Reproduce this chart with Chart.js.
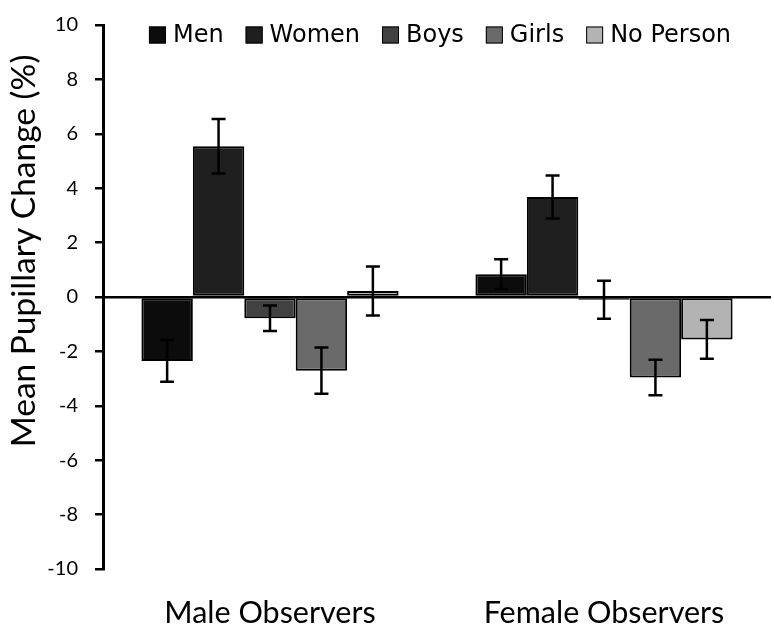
<!DOCTYPE html>
<html>
<head>
<meta charset="utf-8">
<script src="https://cdn.jsdelivr.net/npm/chart.js@4.4.0/dist/chart.umd.min.js"></script>
<style>
  html, body { margin: 0; padding: 0; background: #fff; }
  #chart { display: block; }
</style>
</head>
<body>
<canvas id="chart" width="774" height="625"></canvas>
<script>
// data
const categories = ["Male Observers", "Female Observers"];
const seriesNames = ["Men", "Women", "Boys", "Girls", "No Person"];
const seriesColors = ["#0c0c0c", "#1f1f1f", "#414141", "#6a6a6a", "#b3b3b3"];

const menValues = [-2.35, 0.84];
const womenValues = [5.54, 3.68];
const boysValues = [-0.78, -0.10];
const girlsValues = [-2.71, -2.96];
const noPersonValues = [0.22, -1.56];

const menErrors = [0.77, 0.55];
const womenErrors = [1.00, 0.79];
const boysErrors = [0.47, 0.70];
const girlsErrors = [0.85, 0.65];
const noPersonErrors = [0.90, 0.71];

const yTicks = [-10, -8, -6, -4, -2, 0, 2, 4, 6, 8, 10];
const yTitle = "Mean Pupillary Change (%)";

const allValues = [menValues, womenValues, boysValues, girlsValues, noPersonValues];
const allErrors = [menErrors, womenErrors, boysErrors, girlsErrors, noPersonErrors];

// pick a font size so a text fills a given width
function fitSize(text, family, width) {
    const c = document.createElement("canvas").getContext("2d");
    c.font = "100px " + family;
    return Math.round(100 * width / c.measureText(text).width * 2) / 2;
}
const catSize = fitSize(categories[0], "Lato", 213);
const titleSize = fitSize(yTitle, "Lato", 392);

const datasets = seriesNames.map((name, i) => ({
    label: name,
    data: allValues[i],
    errors: allErrors[i],
    backgroundColor: seriesColors[i],
    borderColor: "#000",
    borderWidth: 2,
    borderSkipped: false,
    categoryPercentage: 0.77,
    barPercentage: 1.0
}));

// error bars, drawn from the y scale
const errorBars = {
    id: "errorBars",
    afterDatasetsDraw(chart) {
        const ctx = chart.ctx;
        const yScale = chart.scales.y;
        ctx.save();
        ctx.strokeStyle = "#000";
        ctx.lineWidth = 2.5;
        chart.data.datasets.forEach((ds, i) => {
            chart.getDatasetMeta(i).data.forEach((bar, j) => {
                const v = ds.data[j], e = ds.errors[j];
                const top = yScale.getPixelForValue(v + e);
                const bot = yScale.getPixelForValue(v - e);
                ctx.beginPath();
                ctx.moveTo(bar.x, top); ctx.lineTo(bar.x, bot);
                ctx.moveTo(bar.x - 7, top); ctx.lineTo(bar.x + 7, top);
                ctx.moveTo(bar.x - 7, bot); ctx.lineTo(bar.x + 7, bot);
                ctx.stroke();
            });
        });
        ctx.restore();
    }
};

// legend inside the plot along the top, plus the y title (sits above the axis middle)
const extras = {
    id: "extras",
    afterDraw(chart) {
        const ctx = chart.ctx;
        const area = chart.chartArea;
        ctx.save();
        ctx.font = "24px 'DejaVu Sans'";
        ctx.textBaseline = "middle";
        const box = 17, gap = 7, space = 22;
        const widths = chart.data.datasets.map(ds => ctx.measureText(ds.label).width);
        const total = widths.reduce((a, w) => a + box + gap + w, 0) + space * (widths.length - 1);
        let x = (area.left + area.right) / 2 + 3 - total / 2;
        const yMid = area.top + 10;
        chart.data.datasets.forEach((ds, i) => {
            ctx.fillStyle = ds.backgroundColor;
            ctx.fillRect(x, yMid - box / 2, box, box);
            ctx.strokeStyle = "#000";
            ctx.lineWidth = 1;
            ctx.strokeRect(x + 0.5, yMid - box / 2 + 0.5, box - 1, box - 1);
            ctx.fillStyle = "#000";
            ctx.fillText(ds.label, x + box + gap, yMid + 1);
            x += box + gap + widths[i] + space;
        });

        ctx.translate(24, area.top + 226);
        ctx.rotate(-Math.PI / 2);
        ctx.font = titleSize + "px Lato";
        ctx.textAlign = "center";
        ctx.fillText(yTitle, 0, 0);
        ctx.restore();
    }
};

new Chart(document.getElementById("chart"), {
    type: "bar",
    data: { labels: categories, datasets: datasets },
    options: {
        responsive: false,
        animation: false,
        layout: { padding: { top: 9, right: 3, left: 0, bottom: 0 } },
        plugins: {
            legend: { display: false },
            tooltip: { enabled: false }
        },
        scales: {
            x: {
                grid: { display: false, drawTicks: false },
                border: { display: false },
                ticks: {
                    color: "#000",
                    padding: 26,
                    font: { family: "Lato", size: catSize }
                },
                afterFit: s => { s.height = 56; }
            },
            y: {
                min: -10,
                max: 10,
                afterBuildTicks: s => { s.ticks = yTicks.map(v => ({ value: v })); },
                ticks: {
                    color: "#000",
                    padding: 17,
                    font: { family: "Lato", size: 20, lineHeight: 0.8 }
                },
                grid: {
                    drawOnChartArea: true,
                    color: c => (c.tick && c.tick.value === 0) ? "#000" : "rgba(0,0,0,0)",
                    lineWidth: 2.5,
                    tickColor: "#000",
                    tickLength: 8,
                    tickWidth: 2.5
                },
                border: { display: true, color: "#000", width: 3 },
                afterFit: s => { s.width = 103; }
            }
        }
    },
    plugins: [errorBars, extras]
});
</script>
</body>
</html>
